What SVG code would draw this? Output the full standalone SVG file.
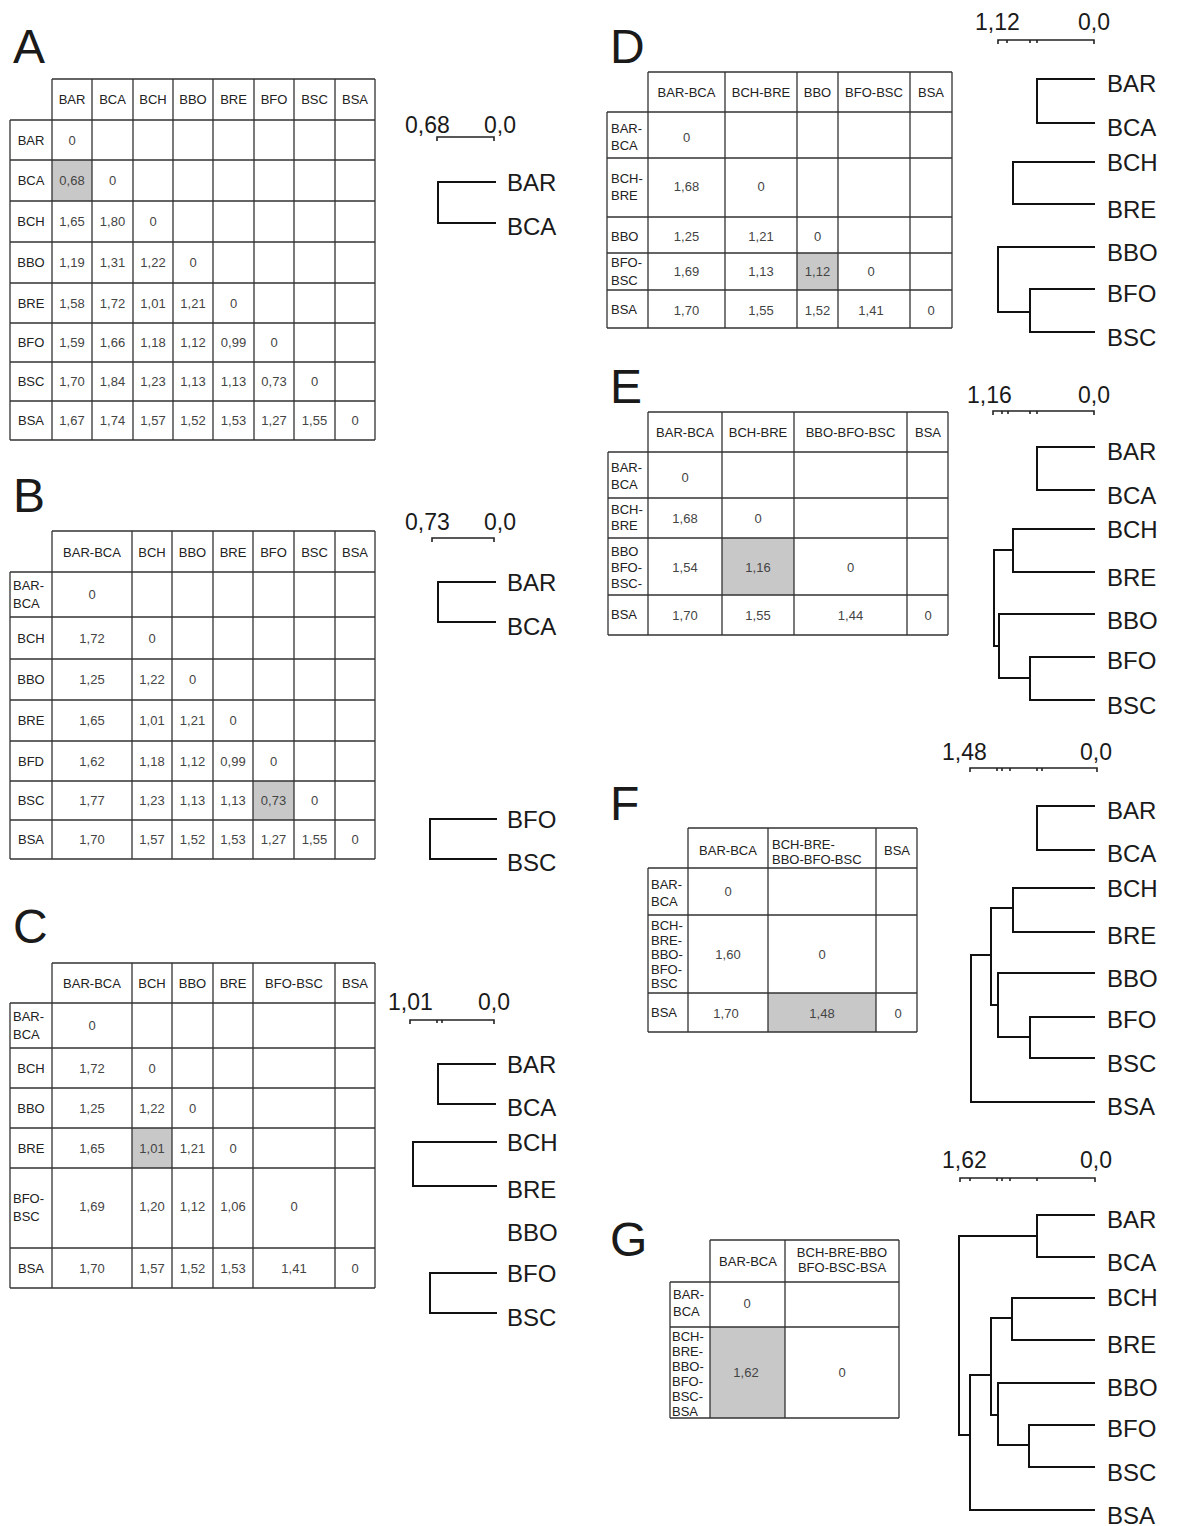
<svg xmlns="http://www.w3.org/2000/svg" width="1184" height="1526" viewBox="0 0 1184 1526">
<style>
text{font-family:"Liberation Sans",Arial,sans-serif}
.big{font-size:48px;fill:#1a1a1a}
.h{font-size:13px;fill:#222;text-anchor:middle}
.r{font-size:13px;fill:#222}
.rc{font-size:13px;fill:#222;text-anchor:middle}
.v{font-size:13px;fill:#444;text-anchor:middle}
.g{fill:none;stroke:#333;stroke-width:1.3}
.sh{fill:#c8c8c8}
.tr{fill:none;stroke:#111;stroke-width:2}
.lab{font-size:24px;fill:#1a1a1a}
.sc{font-size:23px;fill:#1a1a1a}
.bar{fill:none;stroke:#222;stroke-width:1.6}
</style>
<rect width="1184" height="1526" fill="#fff"/>

<!-- Panel A -->
<g id="panelA">
<text class="big" x="13" y="63">A</text>
<rect class="sh" x="52" y="160" width="40" height="41"/>
<path class="g" d="M52,79H375M10,120H375M10,160H375M10,201H375M10,242H375M10,283H375M10,323H375M10,362H375M10,401H375M10,440H375M10,120V440M52,79V440M92,79V440M133,79V440M173,79V440M213,79V440M254,79V440M294,79V440M335,79V440M375,79V440"/>
<g class="h">
<text x="72" y="104">BAR</text><text x="112.5" y="104">BCA</text><text x="153" y="104">BCH</text><text x="193" y="104">BBO</text><text x="233.5" y="104">BRE</text><text x="274" y="104">BFO</text><text x="314.5" y="104">BSC</text><text x="355" y="104">BSA</text>
</g>
<g class="rc">
<text x="31" y="144.6">BAR</text><text x="31" y="185">BCA</text><text x="31" y="226">BCH</text><text x="31" y="267">BBO</text><text x="31" y="307.6">BRE</text><text x="31" y="347">BFO</text><text x="31" y="386">BSC</text><text x="31" y="425">BSA</text>
</g>
<g class="v">
<text x="72" y="144.6">0</text>
<text x="72" y="185">0,68</text><text x="112.5" y="185">0</text>
<text x="72" y="226">1,65</text><text x="112.5" y="226">1,80</text><text x="153" y="226">0</text>
<text x="72" y="267">1,19</text><text x="112.5" y="267">1,31</text><text x="153" y="267">1,22</text><text x="193" y="267">0</text>
<text x="72" y="307.6">1,58</text><text x="112.5" y="307.6">1,72</text><text x="153" y="307.6">1,01</text><text x="193" y="307.6">1,21</text><text x="233.5" y="307.6">0</text>
<text x="72" y="347">1,59</text><text x="112.5" y="347">1,66</text><text x="153" y="347">1,18</text><text x="193" y="347">1,12</text><text x="233.5" y="347">0,99</text><text x="274" y="347">0</text>
<text x="72" y="386">1,70</text><text x="112.5" y="386">1,84</text><text x="153" y="386">1,23</text><text x="193" y="386">1,13</text><text x="233.5" y="386">1,13</text><text x="274" y="386">0,73</text><text x="314.5" y="386">0</text>
<text x="72" y="425">1,67</text><text x="112.5" y="425">1,74</text><text x="153" y="425">1,57</text><text x="193" y="425">1,52</text><text x="233.5" y="425">1,53</text><text x="274" y="425">1,27</text><text x="314.5" y="425">1,55</text><text x="355" y="425">0</text>
</g>
</g>

<g id="treeA">
<text class="sc" x="405" y="133">0,68</text><text class="sc" x="484" y="133">0,0</text>
<path class="bar" d="M437,141V137H494V141"/>
<text class="lab" x="507" y="191">BAR</text><text class="lab" x="507" y="235">BCA</text>
</g>

<!-- Panel B -->
<g id="panelB">
<text class="big" x="13" y="512">B</text>
<rect class="sh" x="253" y="781" width="41" height="39"/>
<path class="g" d="M52,531H375M10,572H375M10,617H375M10,659H375M10,700H375M10,741H375M10,781H375M10,820H375M10,859H375M10,572V859M52,531V859M132,531V859M172,531V859M213,531V859M253,531V859M294,531V859M335,531V859M375,531V859"/>
<g class="h">
<text x="92" y="556.6">BAR-BCA</text><text x="152" y="556.6">BCH</text><text x="192.5" y="556.6">BBO</text><text x="233" y="556.6">BRE</text><text x="273.5" y="556.6">BFO</text><text x="314.5" y="556.6">BSC</text><text x="355" y="556.6">BSA</text>
</g>
<g class="r">
<text x="13" y="590">BAR-</text><text x="13" y="608">BCA</text>
</g>
<g class="rc">
<text x="31" y="643">BCH</text><text x="31" y="684">BBO</text><text x="31" y="725">BRE</text><text x="31" y="765.6">BFD</text><text x="31" y="805">BSC</text><text x="31" y="844">BSA</text>
</g>
<g class="v">
<text x="92" y="599">0</text>
<text x="92" y="643">1,72</text><text x="152" y="643">0</text>
<text x="92" y="684">1,25</text><text x="152" y="684">1,22</text><text x="192.5" y="684">0</text>
<text x="92" y="725">1,65</text><text x="152" y="725">1,01</text><text x="192.5" y="725">1,21</text><text x="233" y="725">0</text>
<text x="92" y="765.6">1,62</text><text x="152" y="765.6">1,18</text><text x="192.5" y="765.6">1,12</text><text x="233" y="765.6">0,99</text><text x="273.5" y="765.6">0</text>
<text x="92" y="805">1,77</text><text x="152" y="805">1,23</text><text x="192.5" y="805">1,13</text><text x="233" y="805">1,13</text><text x="273.5" y="805">0,73</text><text x="314.5" y="805">0</text>
<text x="92" y="844">1,70</text><text x="152" y="844">1,57</text><text x="192.5" y="844">1,52</text><text x="233" y="844">1,53</text><text x="273.5" y="844">1,27</text><text x="314.5" y="844">1,55</text><text x="355" y="844">0</text>
</g>
</g>

<g id="treeB">
<text class="sc" x="405" y="530">0,73</text><text class="sc" x="484" y="530">0,0</text>
<path class="bar" d="M432,542V538H494V542"/>
<text class="lab" x="507" y="591">BAR</text><text class="lab" x="507" y="635">BCA</text>
<text class="lab" x="507" y="828">BFO</text><text class="lab" x="507" y="871">BSC</text>
</g>

<!-- Panel C -->
<g id="panelC">
<text class="big" x="13" y="943">C</text>
<rect class="sh" x="132" y="1128" width="40" height="40"/>
<path class="g" d="M52,963H375M10,1003H375M10,1048H375M10,1088H375M10,1128H375M10,1168H375M10,1248H375M10,1288H375M10,1003V1288M52,963V1288M132,963V1288M172,963V1288M213,963V1288M253,963V1288M335,963V1288M375,963V1288"/>
<g class="h">
<text x="92" y="987.6">BAR-BCA</text><text x="152" y="987.6">BCH</text><text x="192.5" y="987.6">BBO</text><text x="233" y="987.6">BRE</text><text x="294" y="987.6">BFO-BSC</text><text x="355" y="987.6">BSA</text>
</g>
<g class="r">
<text x="13" y="1021">BAR-</text><text x="13" y="1039">BCA</text>
<text x="13" y="1203">BFO-</text><text x="13" y="1221">BSC</text>
</g>
<g class="rc">
<text x="31" y="1073">BCH</text><text x="31" y="1113">BBO</text><text x="31" y="1153">BRE</text><text x="31" y="1273">BSA</text>
</g>
<g class="v">
<text x="92" y="1030">0</text>
<text x="92" y="1073">1,72</text><text x="152" y="1073">0</text>
<text x="92" y="1113">1,25</text><text x="152" y="1113">1,22</text><text x="192.5" y="1113">0</text>
<text x="92" y="1153">1,65</text><text x="152" y="1153">1,01</text><text x="192.5" y="1153">1,21</text><text x="233" y="1153">0</text>
<text x="92" y="1211">1,69</text><text x="152" y="1211">1,20</text><text x="192.5" y="1211">1,12</text><text x="233" y="1211">1,06</text><text x="294" y="1211">0</text>
<text x="92" y="1273">1,70</text><text x="152" y="1273">1,57</text><text x="192.5" y="1273">1,52</text><text x="233" y="1273">1,53</text><text x="294" y="1273">1,41</text><text x="355" y="1273">0</text>
</g>
</g>

<g id="treeC">
<text class="sc" x="388" y="1010">1,01</text><text class="sc" x="478" y="1010">0,0</text>
<path class="bar" d="M410,1024V1020H494V1024M437,1020V1023M442,1020V1023"/>
<text class="lab" x="507" y="1073">BAR</text><text class="lab" x="507" y="1116">BCA</text>
<text class="lab" x="507" y="1151">BCH</text><text class="lab" x="507" y="1198">BRE</text>
<text class="lab" x="507" y="1241">BBO</text>
<text class="lab" x="507" y="1282">BFO</text><text class="lab" x="507" y="1326">BSC</text>
</g>

<!-- Panel D -->
<g id="panelD">
<text class="big" x="610" y="63">D</text>
<rect class="sh" x="797" y="253" width="41" height="37"/>
<path class="g" d="M648,72H952M607,112H952M607,158H952M607,217H952M607,253H952M607,290H952M607,328H952M607,112V328M648,72V328M725,72V328M797,72V328M838,72V328M910,72V328M952,72V328"/>
<g class="h">
<text x="686.5" y="96.6">BAR-BCA</text><text x="761" y="96.6">BCH-BRE</text><text x="817.5" y="96.6">BBO</text><text x="874" y="96.6">BFO-BSC</text><text x="931" y="96.6">BSA</text>
</g>
<g class="r">
<text x="611" y="133">BAR-</text><text x="611" y="150">BCA</text>
<text x="611" y="183">BCH-</text><text x="611" y="200">BRE</text>
<text x="611" y="240.6">BBO</text>
<text x="611" y="267">BFO-</text><text x="611" y="285">BSC</text>
<text x="611" y="314">BSA</text>
</g>
<g class="v">
<text x="686.5" y="142">0</text>
<text x="686.5" y="191">1,68</text><text x="761" y="191">0</text>
<text x="686.5" y="240.6">1,25</text><text x="761" y="240.6">1,21</text><text x="817.5" y="240.6">0</text>
<text x="686.5" y="276">1,69</text><text x="761" y="276">1,13</text><text x="817.5" y="276">1,12</text><text x="871" y="276">0</text>
<text x="686.5" y="315">1,70</text><text x="761" y="315">1,55</text><text x="817.5" y="315">1,52</text><text x="871" y="315">1,41</text><text x="931" y="315">0</text>
</g>
</g>

<!-- Panel E -->
<g id="panelE">
<text class="big" x="610" y="403">E</text>
<rect class="sh" x="722" y="538" width="72" height="57"/>
<path class="g" d="M648,412H948M608,452H948M608,498H948M608,538H948M608,595H948M608,635H948M608,452V635M648,412V635M722,412V635M794,412V635M907,412V635M948,412V635"/>
<g class="h">
<text x="685" y="436.6">BAR-BCA</text><text x="758" y="436.6">BCH-BRE</text><text x="850.5" y="436.6">BBO-BFO-BSC</text><text x="928" y="436.6">BSA</text>
</g>
<g class="r">
<text x="611" y="472">BAR-</text><text x="611" y="489">BCA</text>
<text x="611" y="514">BCH-</text><text x="611" y="530">BRE</text>
<text x="611" y="556">BBO</text><text x="611" y="572">BFO-</text><text x="611" y="588">BSC-</text>
<text x="611" y="619">BSA</text>
</g>
<g class="v">
<text x="685" y="482">0</text>
<text x="685" y="522.6">1,68</text><text x="758" y="522.6">0</text>
<text x="685" y="572">1,54</text><text x="758" y="572">1,16</text><text x="850.5" y="572">0</text>
<text x="685" y="619.6">1,70</text><text x="758" y="619.6">1,55</text><text x="850.5" y="619.6">1,44</text><text x="928" y="619.6">0</text>
</g>
</g>

<!-- Panel F -->
<g id="panelF">
<text class="big" x="610" y="820">F</text>
<rect class="sh" x="768" y="993" width="108" height="39"/>
<path class="g" d="M688,828H917M648,868H917M648,915H917M648,993H917M648,1032H917M648,868V1032M688,828V1032M768,828V1032M876,828V1032M917,828V1032"/>
<g class="h">
<text x="728" y="854.6">BAR-BCA</text><text x="897" y="854.6">BSA</text>
</g>
<g class="r">
<text x="772" y="849">BCH-BRE-</text><text x="772" y="864">BBO-BFO-BSC</text>
<text x="651" y="889">BAR-</text><text x="651" y="906">BCA</text>
<text x="651" y="930">BCH-</text><text x="651" y="944.5">BRE-</text><text x="651" y="959">BBO-</text><text x="651" y="973.5">BFO-</text><text x="651" y="988">BSC</text>
<text x="651" y="1017">BSA</text>
</g>
<g class="v">
<text x="728" y="896">0</text>
<text x="728" y="959">1,60</text><text x="822" y="959">0</text>
<text x="726" y="1017.6">1,70</text><text x="822" y="1017.6">1,48</text><text x="898" y="1017.6">0</text>
</g>
</g>

<!-- Panel G -->
<g id="panelG">
<text class="big" x="610" y="1256">G</text>
<rect class="sh" x="710" y="1327" width="75" height="91"/>
<path class="g" d="M710,1240H899M670,1282H899M670,1327H899M670,1418H899M670,1282V1418M710,1240V1418M785,1240V1418M899,1240V1418"/>
<g class="h">
<text x="748" y="1265.6">BAR-BCA</text>
<text x="842" y="1257">BCH-BRE-BBO</text><text x="842" y="1272">BFO-BSC-BSA</text>
</g>
<g class="r">
<text x="673" y="1299">BAR-</text><text x="673" y="1316">BCA</text>
<text x="672" y="1341">BCH-</text><text x="672" y="1356">BRE-</text><text x="672" y="1371">BBO-</text><text x="672" y="1386">BFO-</text><text x="672" y="1401">BSC-</text><text x="672" y="1415.5">BSA</text>
</g>
<g class="v">
<text x="747" y="1308">0</text>
<text x="746" y="1377">1,62</text><text x="842" y="1377">0</text>
</g>
</g>

<!-- Right trees -->
<g id="treeD">
<text class="sc" x="975" y="30">1,12</text><text class="sc" x="1078" y="30">0,0</text>
<path class="bar" d="M998,44V40H1094V44M1007,40V43M1030,40V43M1037,40V43"/>
<text class="lab" x="1107" y="92">BAR</text><text class="lab" x="1107" y="136">BCA</text>
<text class="lab" x="1107" y="171">BCH</text><text class="lab" x="1107" y="218">BRE</text>
<text class="lab" x="1107" y="261">BBO</text><text class="lab" x="1107" y="302">BFO</text><text class="lab" x="1107" y="346">BSC</text>
</g>
<g id="treeE">
<text class="sc" x="967" y="403">1,16</text><text class="sc" x="1078" y="403">0,0</text>
<path class="bar" d="M993,415V411H1094V415M1002,411V414M1008,411V414M1030,411V414M1037,411V414"/>
<text class="lab" x="1107" y="460">BAR</text><text class="lab" x="1107" y="504">BCA</text>
<text class="lab" x="1107" y="538">BCH</text><text class="lab" x="1107" y="586">BRE</text>
<text class="lab" x="1107" y="629">BBO</text><text class="lab" x="1107" y="669">BFO</text><text class="lab" x="1107" y="714">BSC</text>
</g>
<g id="treeF">
<text class="sc" x="942" y="760">1,48</text><text class="sc" x="1080" y="760">0,0</text>
<path class="bar" d="M970,772V768H1097V772M997,768V771M1002,768V771M1010,768V771M1037,768V771M1042,768V771"/>
<text class="lab" x="1107" y="819">BAR</text><text class="lab" x="1107" y="862">BCA</text>
<text class="lab" x="1107" y="897">BCH</text><text class="lab" x="1107" y="944">BRE</text>
<text class="lab" x="1107" y="987">BBO</text><text class="lab" x="1107" y="1028">BFO</text><text class="lab" x="1107" y="1072">BSC</text>
<text class="lab" x="1107" y="1115">BSA</text>
</g>
<g id="treeG">
<text class="sc" x="942" y="1168">1,62</text><text class="sc" x="1080" y="1168">0,0</text>
<path class="bar" d="M960,1182V1178H1095V1182M970,1178V1181M997,1178V1181M1002,1178V1181M1010,1178V1181M1037,1178V1181"/>
<text class="lab" x="1107" y="1228">BAR</text><text class="lab" x="1107" y="1271">BCA</text>
<text class="lab" x="1107" y="1306">BCH</text><text class="lab" x="1107" y="1353">BRE</text>
<text class="lab" x="1107" y="1396">BBO</text><text class="lab" x="1107" y="1437">BFO</text><text class="lab" x="1107" y="1481">BSC</text>
<text class="lab" x="1107" y="1524">BSA</text>
</g>

<!-- Connectors (tree branches) -->
<g id="connectors" class="tr">
<path d="M496,182H438V223H496"/>
<path d="M496,582H438V622H496"/>
<path d="M497,819H430V859H497"/>
<path d="M496,1064H438V1104H496"/>
<path d="M497,1142H413V1186H497"/>
<path d="M497,1273H430V1313H497"/>
<path d="M1095,79H1037V123H1095"/>
<path d="M1095,162H1013V204H1095"/>
<path d="M1095,247H998V312H1030"/>
<path d="M1095,289H1030V332H1095"/>
<path d="M1095,447H1037V490H1095"/>
<path d="M1095,529H1013V572H1095"/>
<path d="M1013,550H994V646H999"/>
<path d="M1095,614H999V678H1030"/>
<path d="M1095,657H1030V700H1095"/>
<path d="M1095,806H1037V850H1095"/>
<path d="M1095,888H1013V932H1095"/>
<path d="M1013,908H991V1005H998"/>
<path d="M1095,973H998V1037H1030"/>
<path d="M1095,1017H1030V1058H1095"/>
<path d="M991,955H971V1102H1095"/>
<path d="M1095,1215H1037V1257H1095"/>
<path d="M1037,1236H959V1435H970"/>
<path d="M1095,1298H1012V1340H1095"/>
<path d="M1012,1318H991V1415H998"/>
<path d="M1095,1383H998V1445H1029"/>
<path d="M1095,1425H1029V1467H1095"/>
<path d="M991,1375H970V1510H1095"/>
</g>
</svg>
